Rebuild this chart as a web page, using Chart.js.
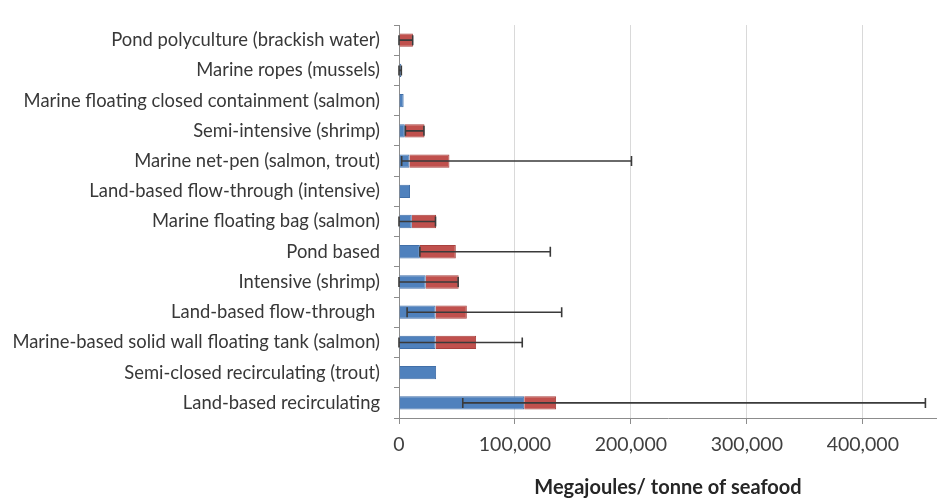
<!DOCTYPE html>
<html>
<head>
<meta charset="utf-8">
<script src="https://cdn.jsdelivr.net/npm/chart.js@4/dist/chart.umd.min.js"></script>
<style>
  html, body { margin: 0; padding: 0; background: #ffffff; }
  #wrap { width: 937px; height: 501px; position: relative; }
</style>
</head>
<body>
<div id="wrap"><canvas id="chart" width="937" height="501"></canvas></div>
<script>
// Production systems, listed top to bottom
const categories = [
  'Pond polyculture (brackish water)',
  'Marine ropes (mussels)',
  'Marine floating closed containment (salmon)',
  'Semi-intensive (shrimp)',
  'Marine net-pen (salmon, trout)',
  'Land-based flow-through (intensive)',
  'Marine floating bag (salmon)',
  'Pond based',
  'Intensive (shrimp)',
  'Land-based flow-through ',
  'Marine-based solid wall floating tank (salmon)',
  'Semi-closed recirculating (trout)',
  'Land-based recirculating'
];

// Stacked energy segments (MJ per tonne of seafood)
const lowerSegment = [0, 2000, 4000, 5000, 9000, 9500, 11000, 18000, 23000, 31500, 31500, 32000, 108000];
const upperSegment = [12000, 0, 0, 17000, 34500, 0, 21000, 31000, 28500, 27000, 35000, 0, 27500];

// Reported ranges (min / max), null where no range is given
const rangeLow  = [0, 0, null, 5500, 2300, null, 0, 18000, 0, 7000, 0, null, 55000];
const rangeHigh = [11800, 2000, null, 21500, 200500, null, 31500, 130500, 51000, 140300, 106300, null, 454000];

// Value axis ticks
const xTickValues = [0, 100000, 200000, 300000, 400000];
const xAxisMax = 464000;

// Draws the min–max range whiskers on top of the stacked bars
const rangeWhiskers = {
  id: 'rangeWhiskers',
  afterDatasetsDraw(chart) {
    const { ctx, scales: { x, y } } = chart;
    ctx.save();
    ctx.strokeStyle = '#3a3a3a';
    ctx.lineWidth = 1.6;
    categories.forEach((c, i) => {
      if (rangeLow[i] === null) return;
      const yp = y.getPixelForValue(i);
      const x0 = x.getPixelForValue(rangeLow[i]);
      const x1 = x.getPixelForValue(rangeHigh[i]);
      ctx.beginPath();
      ctx.moveTo(x0, yp); ctx.lineTo(x1, yp);
      ctx.moveTo(x0, yp - 5); ctx.lineTo(x0, yp + 5);
      ctx.moveTo(x1, yp - 5); ctx.lineTo(x1, yp + 5);
      ctx.stroke();
    });
    ctx.restore();
  }
};

new Chart(document.getElementById('chart'), {
  type: 'bar',
  data: {
    labels: categories,
    datasets: [
      { data: lowerSegment, backgroundColor: '#4f81bd', borderColor: '#416fa8', borderWidth: 1 },
      { data: upperSegment, backgroundColor: '#c0504d', borderColor: '#a8413e', borderWidth: 1 }
    ]
  },
  options: {
    indexAxis: 'y',
    responsive: false,
    animation: false,
    layout: { padding: { top: 12, right: 0, bottom: 0, left: 0 } },
    datasets: { bar: { barPercentage: 0.44, categoryPercentage: 1 } },
    plugins: { legend: { display: false }, tooltip: { enabled: false } },
    scales: {
      x: {
        stacked: true,
        min: 0,
        max: xAxisMax,
        afterBuildTicks(scale) { scale.ticks = xTickValues.map(v => ({ value: v })); },
        afterFit(scale) { scale.height = 83; },
        ticks: {
          color: '#404040',
          font: { family: 'Lato', size: 19.5 },
          padding: 9,
          maxRotation: 0,
          autoSkip: false,
          callback: v => Number(v).toLocaleString('en-US')
        },
        grid: { color: '#d9d9d9', tickColor: '#8c8c8c', tickLength: 6 },
        border: { color: '#8c8c8c' },
        title: {
          display: true,
          text: 'Megajoules/ tonne of seafood',
          color: '#262626',
          font: { family: 'Lato', size: 20, weight: 'bold' },
          padding: { top: 4, bottom: 1 }
        }
      },
      y: {
        stacked: true,
        afterFit(scale) { scale.width = 399; },
        ticks: {
          color: '#383838',
          font: { family: 'Lato', size: 18.4 },
          padding: 14,
          autoSkip: false
        },
        grid: { drawOnChartArea: false, tickColor: '#8c8c8c', tickLength: 5, offset: true },
        border: { color: '#8c8c8c' }
      }
    }
  },
  plugins: [rangeWhiskers]
});
</script>
</body>
</html>
